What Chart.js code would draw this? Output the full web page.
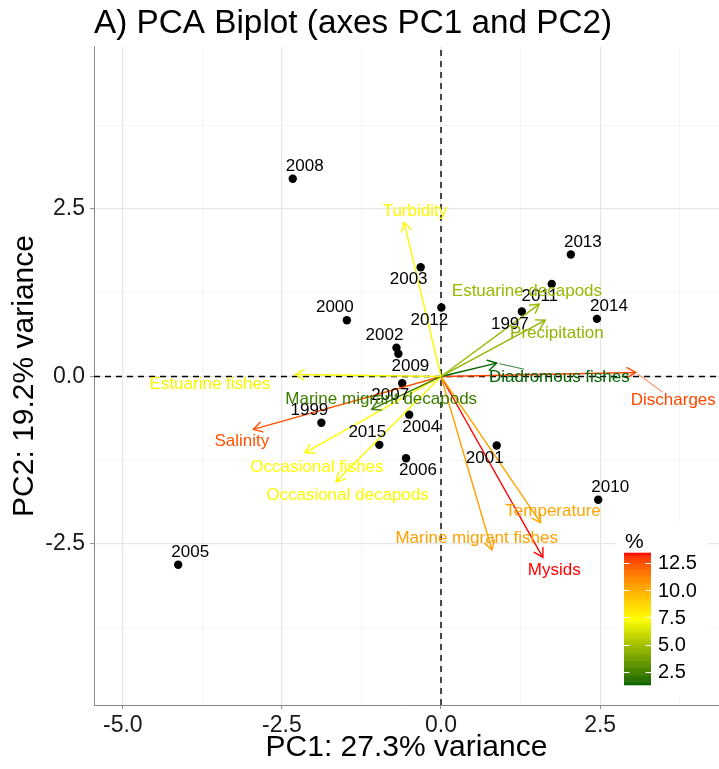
<!DOCTYPE html>
<html>
<head>
<meta charset="utf-8">
<script src="https://cdn.jsdelivr.net/npm/chart.js@4.4.0/dist/chart.umd.min.js"></script>
<style>
  html, body { margin: 0; padding: 0; background: #ffffff; }
  canvas { display: block; }
</style>
</head>
<body>
<canvas id="biplot" width="719" height="769"></canvas>
<script>
// ---- Individuals (years) : PCA scores ----
const years = ['1997', '1999', '2000', '2001', '2002', '2003', '2004', '2005', '2006',
               '2007', '2008', '2009', '2010', '2011', '2012', '2013', '2014', '2015'];
const pc1 = [1.27, -1.88, -1.48, 0.875, -0.70, -0.32, -0.50, -4.13, -0.55,
             -0.61, -2.33, -0.67, 2.47, 1.74, 0.005, 2.04, 2.45, -0.97];
const pc2 = [0.97, -0.69, 0.84, -1.03, 0.43, 1.63, -0.57, -2.81, -1.22,
             -0.10, 2.95, 0.34, -1.84, 1.38, 1.03, 1.82, 0.86, -1.02];
// side of each point where its year label sits (repelled placement)
const yearLabelSide = ['sw', 'nw', 'nw', 'sw', 'nw', 'sw', 'se', 'ne', 'se',
                       'sw', 'ne', 'se', 'ne', 'sw', 'sw', 'ne', 'ne', 'nw'];

// ---- Variables : loadings (arrow tips) and contribution (%) ----
const variables = ['Turbidity', 'Estuarine decapods', 'Precipitation', 'Diadromous fishes',
                   'Discharges', 'Estuarine fishes', 'Marine migrant decapods', 'Salinity',
                   'Occasional fishes', 'Occasional decapods', 'Temperature',
                   'Marine migrant fishes', 'Mysids'];
const loadX = [-0.58, 1.545, 1.64, 0.875, 3.06, -2.29, -1.09, -2.95, -2.14, -1.65, 1.565, 0.80, 1.60];
const loadY = [2.30, 1.08, 0.84, 0.20, 0.06, 0.03, -0.49, -0.79, -1.14, -1.57, -2.18, -2.59, -2.70];
const contrib = [7.6, 4.7, 4.5, 1.3, 12.7, 7.1, 2.3, 12.5, 7.4, 7.2, 10.3, 10.4, 13.4];
// repelled label anchors for the variables (data units)
const varLabelX = [-0.41, 1.35, 1.82, 1.86, 3.65, -3.63, -0.94, -3.13, -1.95, -1.47, 1.76, 0.56, 1.78];
const varLabelY = [2.47, 1.27, 0.64, -0.01, -0.35, -0.11, -0.34, -0.97, -1.35, -1.77, -2.01, -2.41, -2.89];
// labels pushed far enough away to get a connector segment
const segmentLabels = ['Discharges', 'Diadromous fishes'];

// ---- Axes ----
const xTicks = [-5, -2.5, 0, 2.5];
const yTicks = [-2.5, 0, 2.5];
const legendTicks = [2.5, 5, 7.5, 10, 12.5];
const gradientColours = ['#006400', '#FFFF00', '#FF0000']; // darkgreen -> yellow -> red

const FONT = "'Liberation Sans', Arimo, Arial, sans-serif";
const X_MIN = -5.453, X_MAX = 4.368;
const Y_MIN = -4.903, Y_MAX = 4.918;

// ---------- colour gradient interpolated in CIE Lab ----------
function hexToRgb(h) {
  return [parseInt(h.slice(1, 3), 16), parseInt(h.slice(3, 5), 16), parseInt(h.slice(5, 7), 16)];
}
function toLin(c) { c /= 255; return c <= 0.04045 ? c / 12.92 : Math.pow((c + 0.055) / 1.055, 2.4); }
function fromLin(c) {
  c = c <= 0.0031308 ? 12.92 * c : 1.055 * Math.pow(c, 1 / 2.4) - 0.055;
  return Math.round(Math.max(0, Math.min(1, c)) * 255);
}
const WN = [0.95047, 1.0, 1.08883];
function rgbToLab(rgb) {
  const [r, g, b] = rgb.map(toLin);
  const X = (0.4124564 * r + 0.3575761 * g + 0.1804375 * b) / WN[0];
  const Y = (0.2126729 * r + 0.7151522 * g + 0.0721750 * b) / WN[1];
  const Z = (0.0193339 * r + 0.1191920 * g + 0.9503041 * b) / WN[2];
  const f = t => t > 0.008856 ? Math.cbrt(t) : 7.787 * t + 16 / 116;
  const fx = f(X), fy = f(Y), fz = f(Z);
  return [116 * fy - 16, 500 * (fx - fy), 200 * (fy - fz)];
}
function labToRgb(lab) {
  const fy = (lab[0] + 16) / 116, fx = fy + lab[1] / 500, fz = fy - lab[2] / 200;
  const inv = t => t * t * t > 0.008856 ? t * t * t : (t - 16 / 116) / 7.787;
  const X = inv(fx) * WN[0], Y = inv(fy) * WN[1], Z = inv(fz) * WN[2];
  const r = 3.2404542 * X - 1.5371385 * Y - 0.4985314 * Z;
  const g = -0.9692660 * X + 1.8760108 * Y + 0.0415560 * Z;
  const b = 0.0556434 * X - 0.2040259 * Y + 1.0572252 * Z;
  return [fromLin(r), fromLin(g), fromLin(b)];
}
const gradLab = gradientColours.map(h => rgbToLab(hexToRgb(h)));
const cMin = Math.min(...contrib), cMax = Math.max(...contrib);
function colourFor(v) {
  let t = (v - cMin) / (cMax - cMin);
  t = Math.max(0, Math.min(1, t));
  const seg = t * (gradLab.length - 1);
  const i = Math.min(gradLab.length - 2, Math.floor(seg));
  const u = seg - i;
  const a = gradLab[i], b = gradLab[i + 1];
  const rgb = labToRgb([a[0] + (b[0] - a[0]) * u, a[1] + (b[1] - a[1]) * u, a[2] + (b[2] - a[2]) * u]);
  return 'rgb(' + rgb.join(',') + ')';
}

// major breaks plus the minor breaks half-way between them
function withMinor(major, lo, hi) {
  const step = major[1] - major[0];
  const out = [];
  for (let v = major[0] - step; v <= major[major.length - 1] + step + 1e-9; v += step / 2) {
    if (v >= lo && v <= hi) out.push(Math.round(v * 1000) / 1000);
  }
  return out;
}
const isMajor = (list, v) => list.some(m => Math.abs(m - v) < 1e-6);

// ---------- datasets ----------
const referenceLines = [
  { data: [{ x: 0, y: Y_MIN }, { x: 0, y: Y_MAX }] },
  { data: [{ x: X_MIN, y: 0 }, { x: X_MAX, y: 0 }] }
].map(d => Object.assign(d, {
  showLine: true, borderColor: '#000000', borderWidth: 1.4, borderDash: [6, 5],
  pointRadius: 0, order: 3
}));

const yearPoints = {
  data: years.map((y, i) => ({ x: pc1[i], y: pc2[i] })),
  pointRadius: 4.2, pointHoverRadius: 4.2, backgroundColor: '#000000', borderWidth: 0,
  showLine: false, order: 2
};

const arrowShafts = variables.map((v, i) => ({
  data: [{ x: 0, y: 0 }, { x: loadX[i], y: loadY[i] }],
  showLine: true, borderColor: colourFor(contrib[i]), borderWidth: 1.4,
  pointRadius: 0, order: 1
}));

// ---------- annotations: arrowheads, labels, colour bar ----------
const biplotAnnotations = {
  id: 'biplotAnnotations',
  afterDatasetsDraw(chart) {
    const { ctx, scales: { x, y }, chartArea } = chart;
    const ox = x.getPixelForValue(0), oy = y.getPixelForValue(0);
    ctx.save();

    // year labels
    ctx.font = '17px ' + FONT;
    ctx.fillStyle = '#000000';
    ctx.textAlign = 'center';
    ctx.textBaseline = 'middle';
    years.forEach((yr, i) => {
      const s = yearLabelSide[i];
      const dx = s.includes('e') ? 12 : -12;
      const dy = s.includes('n') ? -12.5 : 12.5;
      ctx.fillText(yr, x.getPixelForValue(pc1[i]) + dx, y.getPixelForValue(pc2[i]) + dy);
    });

    // arrowheads (open)
    variables.forEach((v, i) => {
      const tx = x.getPixelForValue(loadX[i]), ty = y.getPixelForValue(loadY[i]);
      const ang = Math.atan2(ty - oy, tx - ox);
      const len = 10, spread = Math.PI / 6;
      ctx.strokeStyle = colourFor(contrib[i]);
      ctx.lineWidth = 1.4;
      ctx.lineCap = 'round';
      ctx.beginPath();
      ctx.moveTo(tx - len * Math.cos(ang - spread), ty - len * Math.sin(ang - spread));
      ctx.lineTo(tx, ty);
      ctx.lineTo(tx - len * Math.cos(ang + spread), ty - len * Math.sin(ang + spread));
      ctx.stroke();
    });

    // variable labels with connector segments where pushed away
    ctx.font = '17px ' + FONT;
    variables.forEach((v, i) => {
      const col = colourFor(contrib[i]);
      const lx = x.getPixelForValue(varLabelX[i]), ly = y.getPixelForValue(varLabelY[i]);
      if (segmentLabels.includes(v)) {
        const tx = x.getPixelForValue(loadX[i]), ty = y.getPixelForValue(loadY[i]);
        const hw = ctx.measureText(v).width / 2 + 1, hh = 8;
        const ddx = lx - tx, ddy = ly - ty;
        // stop the connector where it meets the label's box
        let t = 1;
        if (Math.abs(ddx) > hw) t = Math.min(t, (Math.abs(ddx) - hw) / Math.abs(ddx));
        else t = 0;
        if (Math.abs(ddy) > hh) t = Math.max(t, (Math.abs(ddy) - hh) / Math.abs(ddy));
        const dist = Math.hypot(ddx, ddy);
        const t0 = 3 / dist;
        ctx.strokeStyle = col;
        ctx.lineWidth = 0.8;
        ctx.beginPath();
        ctx.moveTo(tx + ddx * t0, ty + ddy * t0);
        ctx.lineTo(tx + ddx * t, ty + ddy * t);
        ctx.stroke();
      }
      ctx.fillStyle = col;
      ctx.fillText(v, lx, ly);
    });

    // colour bar legend for contribution (%)
    const box = { left: chartArea.right - 103, right: chartArea.right - 11, top: 522, bottom: chartArea.bottom - 9 };
    ctx.fillStyle = '#ffffff';
    ctx.fillRect(box.left, box.top, box.right - box.left, box.bottom - box.top);
    const bar = { left: chartArea.right - 95, width: 27, top: 553, bottom: chartArea.bottom - 20 };
    const vy = v => bar.bottom - (v - cMin) / (cMax - cMin) * (bar.bottom - bar.top);
    const nbin = 150;
    for (let k = 0; k < nbin; k++) {
      const v0 = cMin + (cMax - cMin) * k / nbin, v1 = cMin + (cMax - cMin) * (k + 1) / nbin;
      ctx.fillStyle = colourFor((v0 + v1) / 2);
      const yTop = vy(v1), yBot = vy(v0);
      ctx.fillRect(bar.left, yTop - 0.3, bar.width, yBot - yTop + 0.6);
    }
    ctx.strokeStyle = '#ffffff';
    ctx.lineWidth = 1;
    legendTicks.forEach(v => {
      const py = Math.round(vy(v)) + 0.5;
      ctx.beginPath();
      ctx.moveTo(bar.left, py); ctx.lineTo(bar.left + 5, py);
      ctx.moveTo(bar.left + bar.width - 5, py); ctx.lineTo(bar.left + bar.width, py);
      ctx.stroke();
    });
    ctx.fillStyle = '#000000';
    ctx.textAlign = 'left';
    ctx.textBaseline = 'middle';
    ctx.font = '20px ' + FONT;
    legendTicks.forEach(v => ctx.fillText(v.toFixed(1), bar.left + bar.width + 7, vy(v) + 1));
    ctx.font = '21px ' + FONT;
    ctx.fillText('%', bar.left + 1, 542);

    ctx.restore();
  }
};

// ---------- chart ----------
const gridColour = (list) => ctx => isMajor(list, ctx.tick.value) ? '#e6e6e6' : '#efefef';
const gridWidth = (list) => ctx => isMajor(list, ctx.tick.value) ? 1.2 : 0.7;
const tickColour = (list) => ctx => isMajor(list, ctx.tick.value) ? '#888888' : 'rgba(0,0,0,0)';

new Chart(document.getElementById('biplot'), {
  type: 'scatter',
  data: { datasets: [...referenceLines, yearPoints, ...arrowShafts] },
  options: {
    responsive: false,
    animation: false,
    devicePixelRatio: 1,
    layout: { autoPadding: false, padding: { left: 0, right: 0, top: 0, bottom: 0 } },
    events: [],
    plugins: {
      legend: { display: false },
      tooltip: { enabled: false },
      title: {
        display: true,
        text: 'A) PCA Biplot (axes PC1 and PC2)',
        align: 'start',
        fullSize: false,
        color: '#000000',
        font: { family: FONT, size: 33.3, weight: 'normal' },
        padding: { top: 4, bottom: 3 }
      }
    },
    scales: {
      x: {
        type: 'linear', position: 'bottom', min: X_MIN, max: X_MAX,
        afterBuildTicks: s => { s.ticks = withMinor(xTicks, X_MIN, X_MAX).map(v => ({ value: v })); },
        afterFit: s => { s.height = 64; s.paddingLeft = 0; s.paddingRight = 0; },
        ticks: {
          autoSkip: false, maxRotation: 0, padding: 3,
          color: '#1a1a1a', font: { family: FONT, size: 23 },
          callback: v => isMajor(xTicks, v) ? v.toFixed(1) : ''
        },
        grid: { color: gridColour(xTicks), lineWidth: gridWidth(xTicks), tickLength: 4, tickColor: tickColour(xTicks), tickWidth: 1 },
        border: { display: true, color: '#888888', width: 1 },
        title: {
          display: true, text: 'PC1: 27.3% variance', color: '#000000',
          font: { family: FONT, size: 30 }, padding: { top: 0, bottom: 3 }
        }
      },
      y: {
        type: 'linear', position: 'left', min: Y_MIN, max: Y_MAX,
        afterBuildTicks: s => { s.ticks = withMinor(yTicks, Y_MIN, Y_MAX).map(v => ({ value: v })); },
        afterFit: s => { s.width = 94; s.paddingTop = 0; s.paddingBottom = 0; },
        ticks: {
          autoSkip: false, padding: 5,
          color: '#1a1a1a', font: { family: FONT, size: 23 },
          callback: v => isMajor(yTicks, v) ? v.toFixed(1) : ''
        },
        grid: { color: gridColour(yTicks), lineWidth: gridWidth(yTicks), tickLength: 4, tickColor: tickColour(yTicks), tickWidth: 1 },
        border: { display: true, color: '#888888', width: 1 },
        title: {
          display: true, text: 'PC2: 19.2% variance', color: '#000000',
          font: { family: FONT, size: 30 }, padding: { top: 7, bottom: 0 }
        }
      }
    }
  },
  plugins: [biplotAnnotations]
});
</script>
</body>
</html>
